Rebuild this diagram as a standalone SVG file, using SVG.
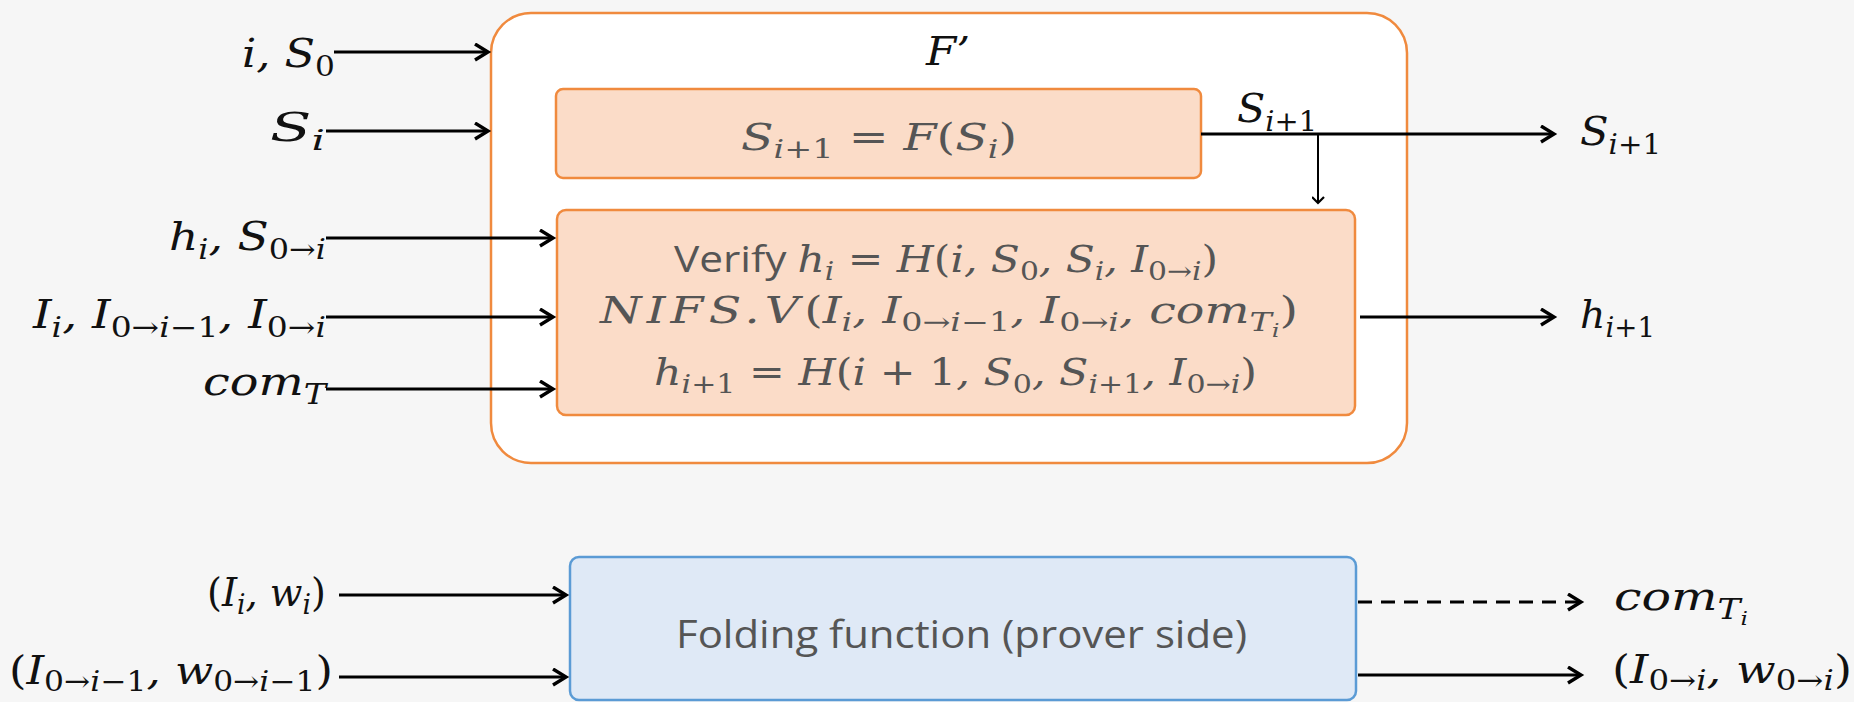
<svg xmlns="http://www.w3.org/2000/svg" width="1854" height="702" viewBox="0 0 1854 702">
<style>
.m{font-family:"DejaVu Serif","Liberation Serif",serif;font-style:italic;font-size:40px;fill:#111}
.bm{font-family:"DejaVu Serif","Liberation Serif",serif;font-style:italic;font-size:37px;fill:#555}
.sb{font-size:28px}
.bm .sb{font-size:26px}
.ss{font-size:19px}
.u{font-style:normal}
.sans{font-family:"Open Sans","Liberation Sans",sans-serif;font-style:normal}
.ln{stroke:#000;stroke-width:3.2;fill:none}
.orange{fill:#fbdcc8;stroke:#f08a3e;stroke-width:2.5}
</style>
<defs>
<marker id="ah" markerUnits="userSpaceOnUse" markerWidth="20" markerHeight="22" refX="14" refY="9" orient="auto">
<path d="M1,1 L14,9 L1,17" fill="none" stroke="#000" stroke-width="3.4"/>
</marker>
<marker id="ahs" markerUnits="userSpaceOnUse" markerWidth="14" markerHeight="16" refX="7" refY="10" orient="auto">
<path d="M1,4 L7,10 L1,16" fill="none" stroke="#000" stroke-width="2.2"/>
</marker>
</defs>
<rect x="0" y="0" width="1854" height="702" fill="#f6f6f6"/>

<g id="outer">
<rect x="491" y="13" width="916" height="450" rx="40" fill="#fff" stroke="#f08a3e" stroke-width="2.5"/>
<text class="m" x="926" y="65" textLength="44" lengthAdjust="spacingAndGlyphs">F’</text>
</g>

<g id="step">
<rect class="orange" x="556" y="89" width="645" height="89" rx="7"/>
<text class="bm" x="741" y="150" textLength="276" lengthAdjust="spacingAndGlyphs">S<tspan class="sb" dy="8">i</tspan><tspan class="sb u">+1</tspan><tspan class="u" dy="-8"> = </tspan>F<tspan class="u">(</tspan>S<tspan class="sb" dy="8">i</tspan><tspan class="u" dy="-8">)</tspan></text>
</g>

<g id="verify">
<rect class="orange" x="557" y="210" width="798" height="205" rx="9"/>
<text class="bm" x="674" y="272" textLength="544" lengthAdjust="spacingAndGlyphs"><tspan class="sans">Verify </tspan>h<tspan class="sb" dy="8">i</tspan><tspan class="u" dy="-8"> = </tspan>H<tspan class="u">(</tspan>i, S<tspan class="sb u" dy="8">0</tspan><tspan dy="-8">, S</tspan><tspan class="sb" dy="8">i</tspan><tspan dy="-8">, I</tspan><tspan class="sb u" dy="8">0→</tspan><tspan class="sb">i</tspan><tspan class="u" dy="-8">)</tspan></text>
<text class="bm" x="600" y="323" textLength="698" lengthAdjust="spacingAndGlyphs"><tspan letter-spacing="4">NIFS.V</tspan><tspan class="u">(</tspan>I<tspan class="sb" dy="8">i</tspan><tspan dy="-8">, I</tspan><tspan class="sb u" dy="8">0→</tspan><tspan class="sb">i</tspan><tspan class="sb u">−1</tspan><tspan dy="-8">, I</tspan><tspan class="sb u" dy="8">0→</tspan><tspan class="sb">i</tspan><tspan dy="-8">, com</tspan><tspan class="sb" dy="8">T</tspan><tspan class="ss" dy="6">i</tspan><tspan class="u" dy="-14">)</tspan></text>
<text class="bm" x="654" y="385" textLength="603" lengthAdjust="spacingAndGlyphs">h<tspan class="sb" dy="8">i</tspan><tspan class="sb u">+1</tspan><tspan class="u" dy="-8"> = </tspan>H<tspan class="u">(</tspan>i<tspan class="u"> + 1</tspan>, S<tspan class="sb u" dy="8">0</tspan><tspan dy="-8">, S</tspan><tspan class="sb" dy="8">i</tspan><tspan class="sb u">+1</tspan><tspan dy="-8">, I</tspan><tspan class="sb u" dy="8">0→</tspan><tspan class="sb">i</tspan><tspan class="u" dy="-8">)</tspan></text>
</g>

<g id="folding">
<rect x="570" y="557" width="786" height="143" rx="9" fill="#dfe9f6" stroke="#5b9bd5" stroke-width="2.5"/>
<text x="676" y="648" textLength="571" lengthAdjust="spacingAndGlyphs" font-family="Open Sans, Liberation Sans, sans-serif" font-size="38" fill="#555">Folding function (prover side)</text>
</g>

<g id="labels">
<text class="m" x="242" y="67" textLength="93" lengthAdjust="spacingAndGlyphs">i, S<tspan class="sb u" dy="9">0</tspan></text>
<text class="m" x="270" y="141" textLength="55" lengthAdjust="spacingAndGlyphs">S<tspan class="sb" dy="9">i</tspan></text>
<text class="m" x="169" y="250" textLength="157" lengthAdjust="spacingAndGlyphs">h<tspan class="sb" dy="9">i</tspan><tspan dy="-9">, S</tspan><tspan class="sb u" dy="9">0→</tspan><tspan class="sb">i</tspan></text>
<text class="m" x="33" y="328" textLength="293" lengthAdjust="spacingAndGlyphs">I<tspan class="sb" dy="9">i</tspan><tspan dy="-9">, I</tspan><tspan class="sb u" dy="9">0→</tspan><tspan class="sb">i</tspan><tspan class="sb u">−1</tspan><tspan dy="-9">, I</tspan><tspan class="sb u" dy="9">0→</tspan><tspan class="sb">i</tspan></text>
<text class="m" x="203" y="395" textLength="123" lengthAdjust="spacingAndGlyphs">com<tspan class="sb" dy="9">T</tspan></text>
<text class="m" x="1237" y="122" textLength="80" lengthAdjust="spacingAndGlyphs">S<tspan class="sb" dy="9">i</tspan><tspan class="sb u">+1</tspan></text>
<text class="m" x="1580" y="145" textLength="81" lengthAdjust="spacingAndGlyphs">S<tspan class="sb" dy="9">i</tspan><tspan class="sb u">+1</tspan></text>
<text class="m" x="1580" y="328" textLength="75" lengthAdjust="spacingAndGlyphs">h<tspan class="sb" dy="9">i</tspan><tspan class="sb u">+1</tspan></text>
<text class="m" x="207" y="606" textLength="119" lengthAdjust="spacingAndGlyphs"><tspan class="u">(</tspan>I<tspan class="sb" dy="8">i</tspan><tspan dy="-8">, w</tspan><tspan class="sb" dy="8">i</tspan><tspan class="u" dy="-8">)</tspan></text>
<text class="m" x="9" y="684" textLength="324" lengthAdjust="spacingAndGlyphs"><tspan class="u">(</tspan>I<tspan class="sb u" dy="7">0→</tspan><tspan class="sb">i</tspan><tspan class="sb u">−1</tspan><tspan dy="-7">, w</tspan><tspan class="sb u" dy="7">0→</tspan><tspan class="sb">i</tspan><tspan class="sb u">−1</tspan><tspan class="u" dy="-7">)</tspan></text>
<text class="m" x="1614" y="610" textLength="134" lengthAdjust="spacingAndGlyphs">com<tspan class="sb" dy="9">T</tspan><tspan class="ss" dy="6">i</tspan></text>
<text class="m" x="1612" y="683" textLength="240" lengthAdjust="spacingAndGlyphs"><tspan class="u">(</tspan>I<tspan class="sb u" dy="7">0→</tspan><tspan class="sb">i</tspan><tspan dy="-7">, w</tspan><tspan class="sb u" dy="7">0→</tspan><tspan class="sb">i</tspan><tspan class="u" dy="-7">)</tspan></text>
</g>

<g id="connectors">
<line class="ln" x1="334" y1="52" x2="488" y2="52" marker-end="url(#ah)"/>
<line class="ln" x1="326" y1="131" x2="488" y2="131" marker-end="url(#ah)"/>
<line class="ln" x1="326" y1="238" x2="553" y2="238" marker-end="url(#ah)"/>
<line class="ln" x1="326" y1="317" x2="553" y2="317" marker-end="url(#ah)"/>
<line class="ln" x1="326" y1="389" x2="553" y2="389" marker-end="url(#ah)"/>
<line class="ln" x1="1201" y1="134" x2="1554" y2="134" marker-end="url(#ah)"/>
<line x1="1318" y1="134" x2="1318" y2="203" stroke="#000" stroke-width="2" marker-end="url(#ahs)"/>
<line class="ln" x1="1360" y1="317" x2="1554" y2="317" marker-end="url(#ah)"/>
<line class="ln" x1="339" y1="595" x2="566" y2="595" marker-end="url(#ah)"/>
<line class="ln" x1="339" y1="677" x2="566" y2="677" marker-end="url(#ah)"/>
<line class="ln" x1="1358" y1="602" x2="1581" y2="602" stroke-dasharray="14,9" marker-end="url(#ah)"/>
<line class="ln" x1="1358" y1="675" x2="1581" y2="675" marker-end="url(#ah)"/>
</g>
</svg>
